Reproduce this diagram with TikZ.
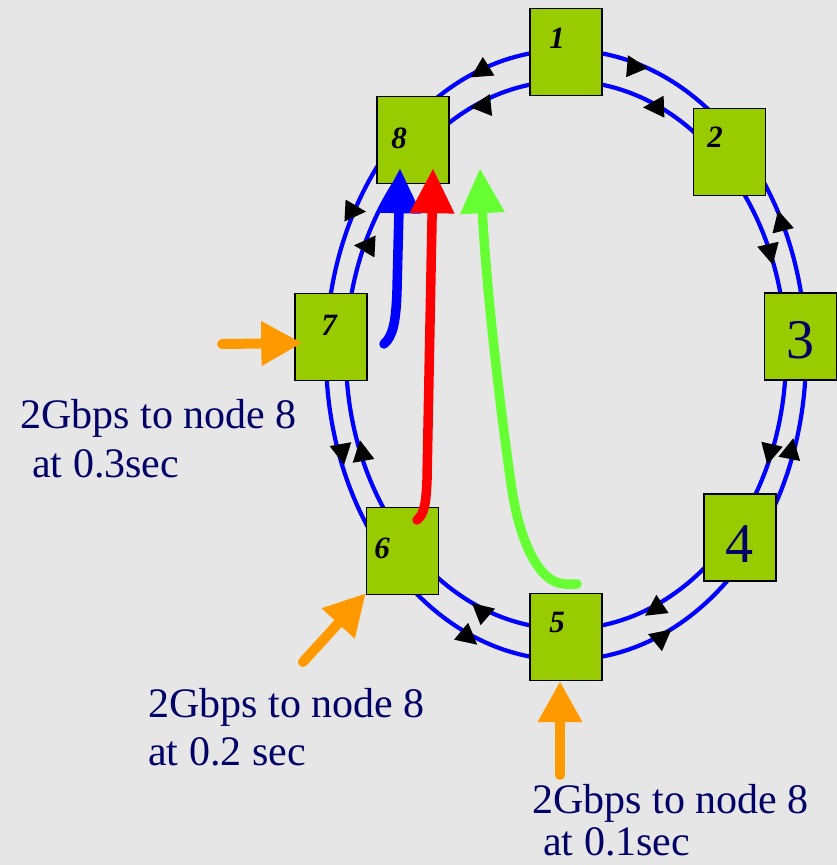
\documentclass[tikz,border=0pt]{standalone}
\usepackage{fontspec}
\setmainfont{Liberation Serif}
\usetikzlibrary{arrows.meta,calc}

\definecolor{boxgreen}{RGB}{153,204,0}
\definecolor{ringblue}{RGB}{0,0,255}
\definecolor{navy}{RGB}{0,0,102}
\definecolor{feedorange}{RGB}{255,153,0}
\definecolor{flowgreen}{RGB}{102,255,51}
\definecolor{paper}{RGB}{230,230,230}

% small black direction marker on a ring: centre x, centre y, heading (degrees)
\newcommand\ringarrow[3]{\fill[black,shift={(#1,#2)},rotate=#3] (12,0) -- (-9,11) -- (-9,-11) -- cycle;}

\begin{document}
\begin{tikzpicture}[x=1pt,y=-1pt,
  station/.style={draw=black,line width=1.4pt,fill=boxgreen,minimum width=72pt,minimum height=87pt,inner sep=0pt},
  smallnum/.style={font=\fontsize{31}{31}\selectfont\bfseries\itshape,text=black,inner sep=0pt},
  bignum/.style={font=\fontsize{56}{56}\selectfont,text=navy,inner sep=0pt},
  caption/.style={font=\fontsize{42}{42}\selectfont,text=navy,inner sep=0pt,anchor=base west},
  ring/.style={draw=ringblue,line width=4.2pt},
  flow/.style={line width=9.5pt,line cap=round,-{Triangle[length=45pt,width=42pt]}},
  inject/.style={draw=feedorange,fill=feedorange,line width=10pt,line cap=round,-{Triangle[length=41pt,width=42pt]}}
]
\useasboundingbox (0,0) rectangle (837,865);
\fill[paper] (0,0) rectangle (837,865);

% the two counter-rotating rings
\draw[ring] (566,355) ellipse [x radius=240, y radius=305];
\draw[ring] (566,355) ellipse [x radius=220, y radius=274];

% direction markers on the rings
\ringarrow{481}{71}{212}
\ringarrow{482}{106}{186}
\ringarrow{636}{67}{-5}
\ringarrow{655}{107}{182}
\ringarrow{354}{211}{-3}
\ringarrow{366}{246}{177}
\ringarrow{770}{253}{-77}
\ringarrow{781}{222}{104}
\ringarrow{342}{453}{-80}
\ringarrow{362}{452}{100}
\ringarrow{770}{453}{-103}
\ringarrow{791}{450}{79}
\ringarrow{481}{611}{139}
\ringarrow{468}{637}{-40}
\ringarrow{655}{609}{214}
\ringarrow{662}{637}{39}

% ring stations
\node[station] (n1) at (566,52) {};
\node[station] (n2) at (729.5,152) {};
\node[station] (n3) at (800.5,336.5) {};
\node[station] (n4) at (740,537.5) {};
\node[station] (n5) at (566,637) {};
\node[station] (n6) at (402.5,551) {};
\node[station] (n7) at (331,337) {};
\node[station] (n8) at (413,140) {};

\node[smallnum] (t1) at (557,38) {1};
\node[smallnum] (t2) at (715,137) {2};
\node[bignum]   (t3) at (800,340) {3};
\node[bignum]   (t4) at (739,544) {4};
\node[smallnum] (t5) at (557,622) {5};
\node[smallnum] (t6) at (382,548) {6};
\node[smallnum] (t7) at (329,325) {7};
\node[smallnum] (t8) at (399,138) {8};

% traffic flows towards node 8
\coordinate (bs) at (384,344);
\draw[flow,color=blue] (bs) .. controls (393,336) and (396,322) .. (397,290) -- ($(n8.south)+(-13,-16)$);
\coordinate (rs) at (417,520);
\draw[flow,color=red] (rs) .. controls (424,514) and (426,505) .. (427,480) -- ($(n8.south)+(20,-16)$);
\coordinate (gs) at (577,584);
\coordinate (gt) at ($(n8.south)+(67,-16)$);
\draw[flow,color=flowgreen] (gs) -- (565,584) .. controls (535,583) and (518,530) .. (512,490) .. controls (503,430) and (487,300) .. (gt);

% injected traffic
\coordinate (s7) at (222,344);
\draw[inject] (s7) -- ($(n7.west)+(8,6)$);
\coordinate (s6) at (303,662);
\draw[inject] (s6) -- ($(n6.south west)+(0,-2)$);
\coordinate (s5) at (560,775);
\draw[inject] (s5) -- ($(n5.south)+(-6,0)$);

% captions
\node[caption] (c7a) at (20,428) {2Gbps to node 8};
\node[caption] (c7b) at (32,477) {at 0.3sec};
\node[caption] (c6a) at (148,717) {2Gbps to node 8};
\node[caption] (c6b) at (148,765) {at 0.2 sec};
\node[caption] (c5a) at (532,813) {2Gbps to node 8};
\node[caption] (c5b) at (543,855) {at 0.1sec};
\end{tikzpicture}
\end{document}
